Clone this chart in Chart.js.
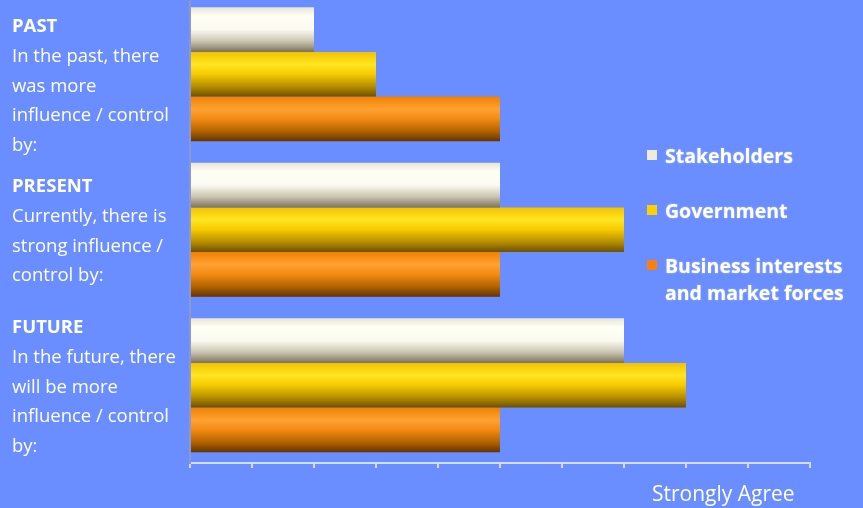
<!DOCTYPE html>
<html>
<head>
<meta charset="utf-8">
<script src="https://cdn.jsdelivr.net/npm/chart.js@4.4.1/dist/chart.umd.min.js"></script>
<style>
    html, body { margin: 0; padding: 0; }
    body { width: 863px; height: 508px; background: #6a8dff; position: relative; overflow: hidden; font-family: "Open Sans", sans-serif; color: #fff; }
    #wrap { position: absolute; left: 0; top: 0; width: 863px; height: 508px; }
    .side { position: absolute; left: 12px; font-size: 18.5px; line-height: 29.8px; }
    .side b { font-weight: 700; }
    .legend { position: absolute; left: 647px; font-size: 19.5px; font-weight: 700; line-height: 27px; text-shadow: 0 0 2px rgba(255,255,255,0.5); }
    .legend i { position: absolute; left: 0; top: 8px; width: 10px; height: 10px; }
    .legend span { display: block; padding-left: 18px; }
    #xtitle { position: absolute; left: 652px; top: 479px; font-size: 21px; }
</style>
</head>
<body>
<div id="wrap"><canvas id="influenceChart" width="863" height="508"></canvas></div>

<div class="side" style="top:10px"><b>PAST</b><br>In the past, there<br>was more<br>influence / control<br>by:</div>
<div class="side" style="top:170px"><b>PRESENT</b><br>Currently, there is<br>strong influence /<br>control by:</div>
<div class="side" style="top:311px"><b>FUTURE</b><br>In the future, there<br>will be more<br>influence / control<br>by:</div>

<div id="legendBox"></div>
<div id="xtitle">Strongly Agree</div>

<script>
// periods (top to bottom)
const periods = ['Past', 'Present', 'Future'];
// agreement score, 0..10 scale
const stakeholders = [2, 5, 7];
const government = [3, 7, 8];
const business = [5, 5, 5];
const seriesNames = ['Stakeholders', 'Government', 'Business interests|and market forces'];
const xTicks = [0, 1, 2, 3, 4, 5, 6, 7, 8, 9, 10];

const catPct = 0.862;

// cylinder-like shading for each series
const shades = [
    [[0, '#e9e5d2'], [0.2, '#fffff6'], [0.5, '#fbfaf0'], [0.75, '#cdc8b4'], [1, '#7a735f']],
    [[0, '#f2c200'], [0.28, '#ffe620'], [0.5, '#f6ca00'], [0.78, '#b48c00'], [1, '#6c5000']],
    [[0, '#f08000'], [0.28, '#ffa232'], [0.5, '#f28a12'], [0.78, '#b06200'], [1, '#643400']]
];
const flatColors = ['#f0ecdc', '#ffd000', '#f5820f'];

function barFill(ctx) {
    const chart = ctx.chart;
    const yScale = chart.scales.y;
    const fallback = flatColors[ctx.datasetIndex];
    if (ctx.type !== 'data' || !yScale) return fallback;
    const center = yScale.getPixelForValue(ctx.dataIndex);
    const cat = Math.abs(yScale.getPixelForValue(1) - yScale.getPixelForValue(0));
    if (!isFinite(center) || !isFinite(cat) || cat === 0) return fallback;
    const barH = cat * catPct / 3;
    const top = center - cat * catPct / 2 + ctx.datasetIndex * barH;
    const g = chart.ctx.createLinearGradient(0, top, 0, top + barH);
    shades[ctx.datasetIndex].forEach(s => g.addColorStop(s[0], s[1]));
    return g;
}

// the plot area starts slightly above the canvas top
const liftCategories = {
    id: 'liftCategories',
    afterLayout(chart) {
        const y = chart.scales.y;
        y.top -= 3.5;
        y.configure();
    }
};

// legend
const legendBox = document.getElementById('legendBox');
const legendTops = [142, 197, 252];
seriesNames.forEach((name, i) => {
    const item = document.createElement('div');
    item.className = 'legend';
    item.style.top = legendTops[i] + 'px';
    const sw = document.createElement('i');
    sw.style.background = flatColors[i];
    item.appendChild(sw);
    name.split('|').forEach(line => {
        const s = document.createElement('span');
        s.textContent = line;
        item.appendChild(s);
    });
    legendBox.appendChild(item);
});

const ctx = document.getElementById('influenceChart').getContext('2d');
new Chart(ctx, {
    type: 'bar',
    data: {
        labels: periods,
        datasets: [
            { label: 'Stakeholders', data: stakeholders, backgroundColor: barFill },
            { label: 'Government', data: government, backgroundColor: barFill },
            { label: 'Business interests and market forces', data: business, backgroundColor: barFill }
        ]
    },
    plugins: [liftCategories],
    options: {
        indexAxis: 'y',
        responsive: false,
        animation: false,
        datasets: {
            bar: {
                borderWidth: 0,
                barPercentage: 1,
                categoryPercentage: catPct,
                clip: false
            }
        },
        layout: {
            padding: { left: 190, right: 53, top: 0, bottom: 0 }
        },
        plugins: {
            colors: { enabled: false },
            legend: { display: false },
            tooltip: { enabled: false }
        },
        scales: {
            x: {
                min: 0,
                max: 10,
                afterBuildTicks: function(scale) {
                    scale.ticks = xTicks.map(v => ({ value: v }));
                },
                afterFit: function(scale) { scale.height = 45; },
                ticks: { display: false },
                grid: {
                    drawOnChartArea: false,
                    drawTicks: true,
                    tickLength: 5,
                    color: '#d6dcf2',
                    lineWidth: 2
                },
                border: { color: '#d6dcf2', width: 2 }
            },
            y: {
                afterFit: function(scale) { scale.width = 0; },
                ticks: { display: false },
                grid: { display: false, drawTicks: false },
                border: { color: '#8d97c8', width: 2 }
            }
        }
    }
});
</script>
</body>
</html>
